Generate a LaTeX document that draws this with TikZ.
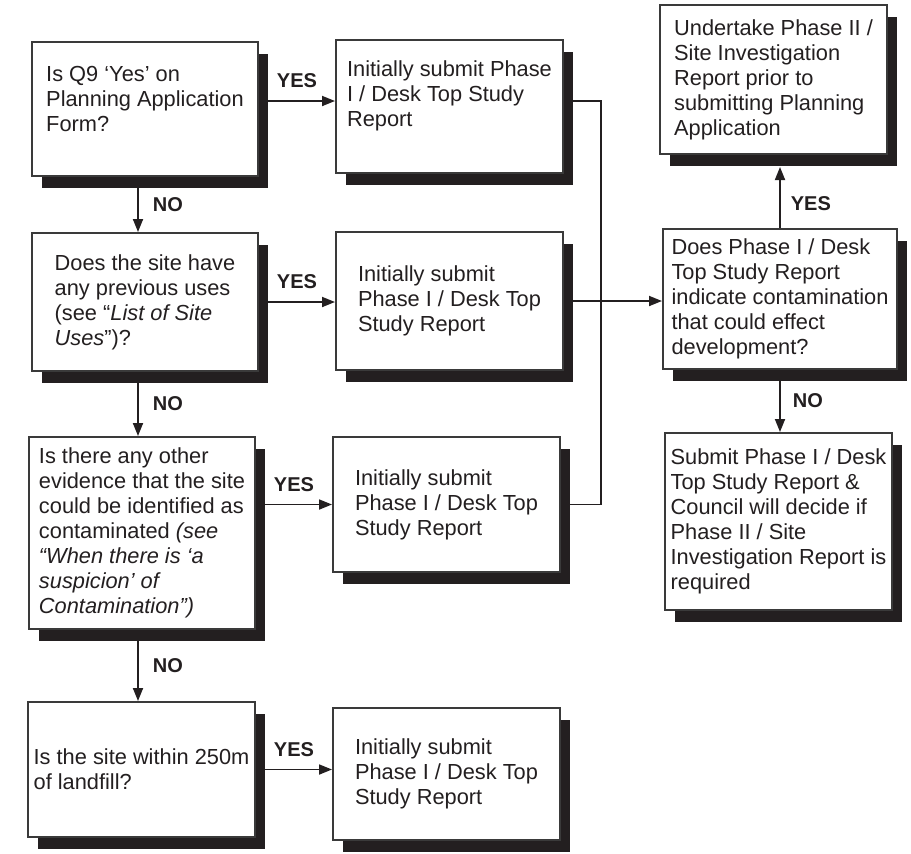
\documentclass[tikz,border=0pt]{standalone}
\usepackage{fontspec}
\setmainfont{Liberation Sans}
\definecolor{inkcol}{HTML}{231F20}
\definecolor{edgecol}{HTML}{3A3A3A}
\usetikzlibrary{arrows.meta,shadows,backgrounds}

\begin{document}
\begin{tikzpicture}[x=0.5pt, y=-0.5pt,
  box/.style={draw=edgecol, line width=1pt, fill=white, align=left, inner sep=0pt,
    text=inkcol, font=\fontsize{10.9}{12.5}\selectfont,
    drop shadow={shadow xshift=5pt, shadow yshift=-6pt, fill=inkcol, opacity=1}},
  flow/.style={draw=inkcol, line width=0.9pt},
  arr/.style={flow, -{Triangle[length=6.5pt,width=5pt]}},
  tag/.style={inner sep=0pt, text=inkcol, font=\fontsize{10}{12}\selectfont\bfseries}]

\useasboundingbox (0,0) rectangle (911,853);

% === LEFT: questions ===
\node[box, minimum width=113pt, minimum height=67pt] (q9) at (145,109)
  {Is Q9 ‘Yes’ on\\Planning Application\\Form?\rule[-10.5pt]{0pt}{0pt}};
\node[box, minimum width=113pt, minimum height=69pt] (uses) at (145,302)
  {Does the site have\\any previous uses\\(see “\textit{List of Site}\\\textit{Uses}”)?};
\node[box, minimum width=113pt, minimum height=96pt] (evid) at (142,533)
  {Is there any other\\evidence that the site\\could be identified as\\contaminated \textit{(see}\\\textit{“When there is ‘a}\\\textit{suspicion’ of}\\\textit{Contamination”)}};
\node[box, minimum width=113.5pt, minimum height=67.5pt] (landfill) at (141.5,769.5)
  {Is the site within 250m\\of landfill?};

% === CENTER: submit boxes ===
\node[box, minimum width=113.5pt, minimum height=66.5pt] (sub1) at (449.5,106.5)
  {Initially submit Phase\\I / Desk Top Study\\Report\rule[-12.5pt]{0pt}{0pt}};
\node[box, minimum width=113.5pt, minimum height=69pt] (sub2) at (449.5,301)
  {Initially submit\\Phase I / Desk Top\\Study Report};
\node[box, minimum width=113.5pt, minimum height=67.5pt] (sub3) at (446.5,504.5)
  {Initially submit\\Phase I / Desk Top\\Study Report};
\node[box, minimum width=113.5pt, minimum height=66pt] (sub4) at (446.5,774)
  {Initially submit\\Phase I / Desk Top\\Study Report};

% === RIGHT: outcome ===
\node[box, minimum width=117pt, minimum height=70pt] (check) at (780,299)
  {Does Phase I / Desk\\Top Study Report\\indicate contamination\\that could effect\\development?};
\node[box, minimum width=113.5pt, minimum height=74.5pt] (phase2) at (773.5,79.5)
  {Undertake Phase II /\\Site Investigation\\Report prior to\\submitting Planning\\Application};
\node[box, minimum width=113.5pt, minimum height=88.5pt] (decide) at (778.5,521.5)
  {Submit Phase I / Desk\\Top Study Report \&\\Council will decide if\\Phase II / Site\\Investigation Report is\\required};

\coordinate (lane) at (138,0);
\coordinate (trunk) at (601,0);
\coordinate (phase2foot) at ([yshift=-6pt]phase2.south);

% === connectors, behind the shadows ===
\begin{pgfonlayer}{background}
  \draw[arr] ([yshift=4pt]q9.east) coordinate (yes1) -- (yes1 -| sub1.west)
    node[midway, tag, above=6pt] {YES};
  \draw[arr] (q9.south -| lane) -- (uses.north -| lane)
    node[midway, tag, right=7pt] {NO};
  \draw[arr] (uses.east) -- (uses.east -| sub2.west)
    node[midway, tag, above=6pt] {YES};
  \draw[arr] (uses.south -| lane) -- (evid.north -| lane)
    node[midway, tag, right=7pt] {NO};
  \draw[arr] (evid.east |- sub3.west) -- (sub3.west)
    node[midway, tag, above=6pt] {YES};
  \draw[arr] (evid.south -| lane) -- (landfill.north -| lane)
    node[midway, tag, right=7pt] {NO};
  \draw[arr] (landfill.east) -- (landfill.east -| sub4.west)
    node[midway, tag, above=6pt] {YES};

  \draw[flow] (yes1 -| sub1.east) -- (yes1 -| trunk) |- (sub3.east);
  \draw[arr] (sub2.east) -- (sub2.east -| check.west);

  \draw[arr] (check.north) -- (check.north |- phase2foot)
    node[pos=0.4, tag, right=5pt] {YES};
  \draw[arr] (check.south) -- (check.south |- decide.north)
    node[midway, tag, right=6pt] {NO};
\end{pgfonlayer}

\end{tikzpicture}
\end{document}
